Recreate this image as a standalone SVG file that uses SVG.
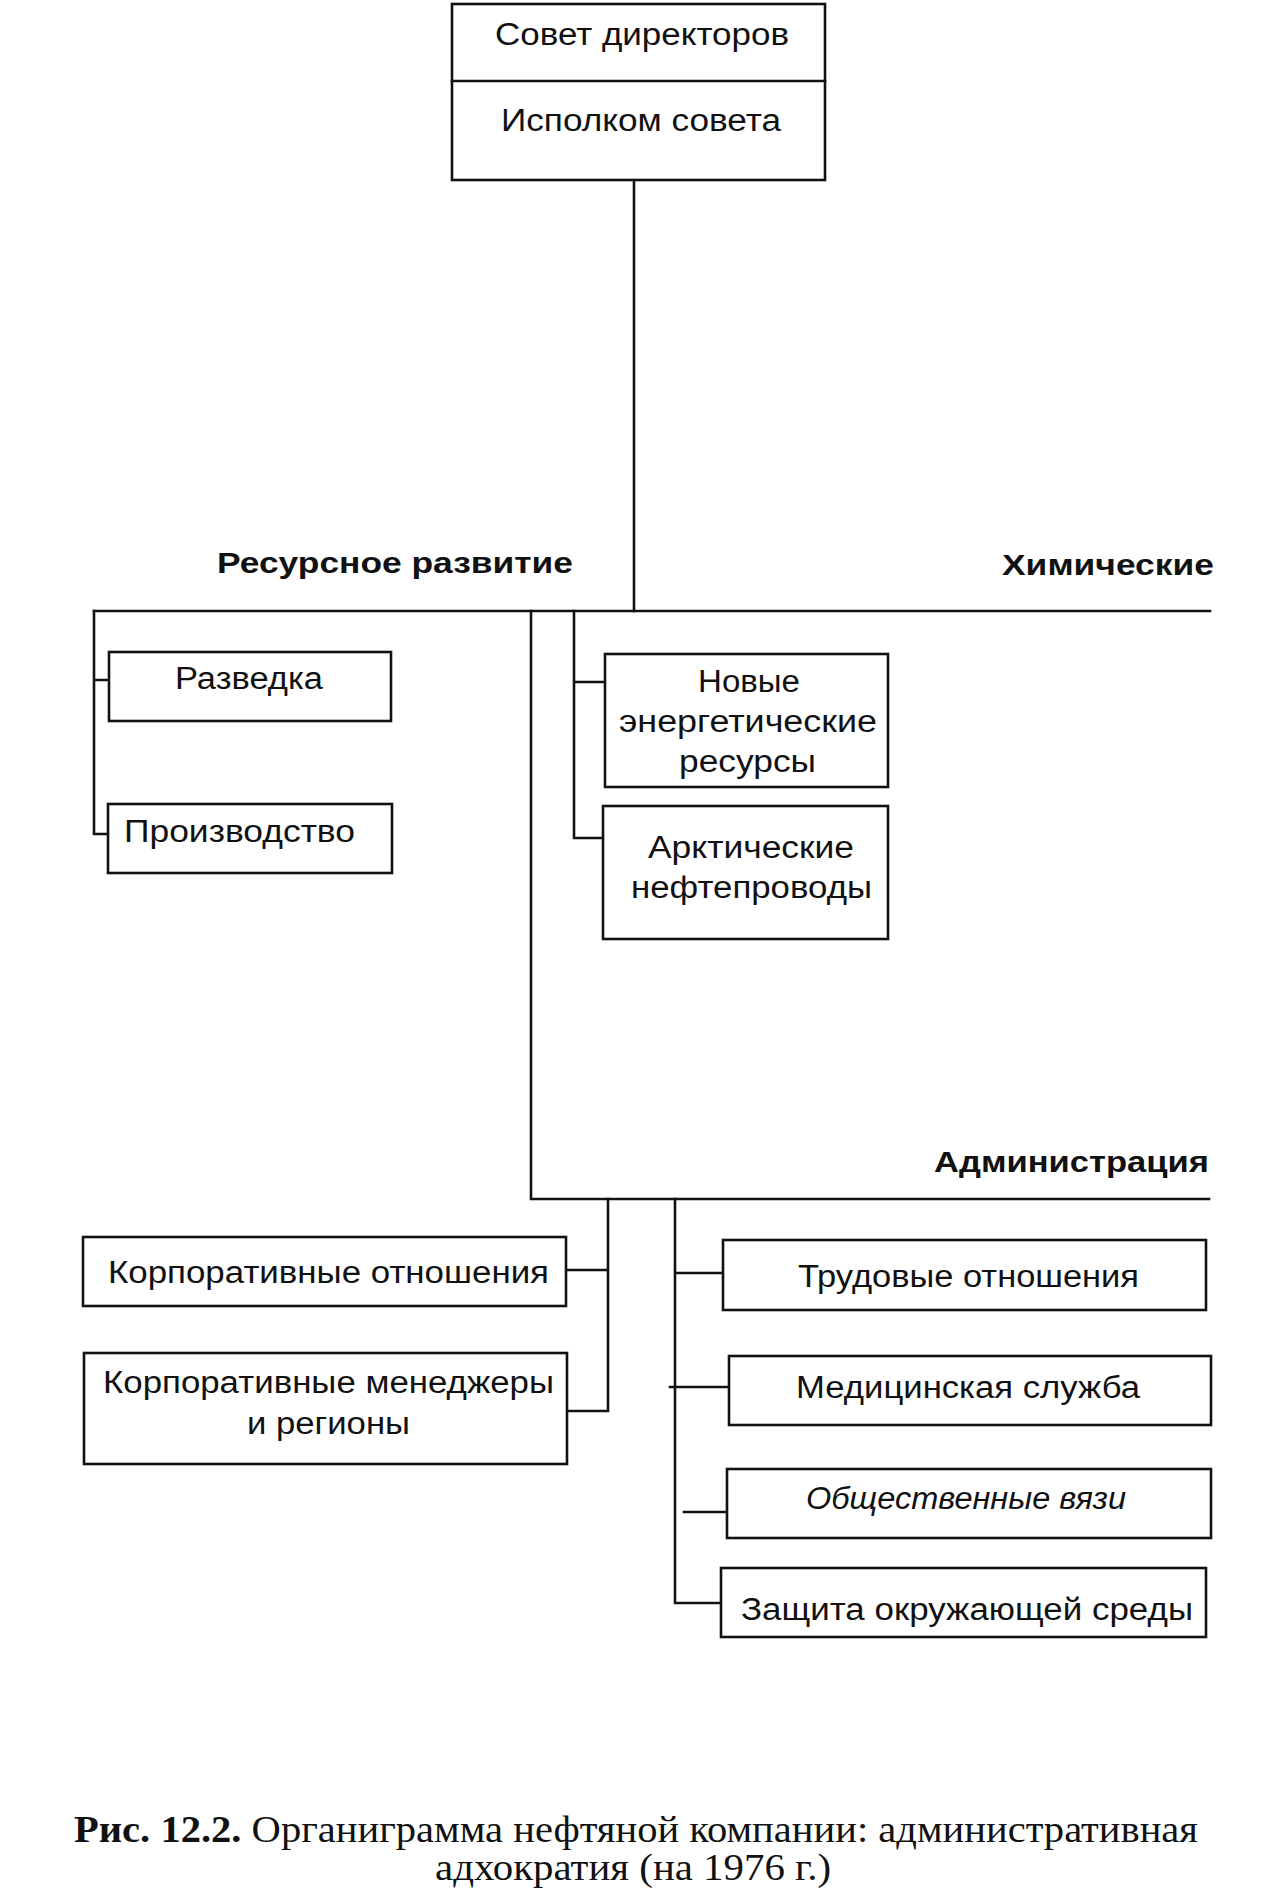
<svg xmlns="http://www.w3.org/2000/svg" width="1275" height="1903" viewBox="0 0 1275 1903">
<style>
.box{fill:#fff;stroke:#111;stroke-width:2.6}
.ln{fill:none;stroke:#111;stroke-width:2.6;stroke-linecap:square}
.t{font-family:"Liberation Sans",Arial,sans-serif;font-size:31px;fill:#111}
.b{font-family:"Liberation Sans",Arial,sans-serif;font-size:29px;font-weight:bold;fill:#111}
.i{font-style:italic}
.cap{font-family:"Liberation Serif","Times New Roman",serif;font-size:37px;fill:#111}
</style>
<rect width="1275" height="1903" fill="#fff"/>
<g id="connectors">
<path class="ln" d="M634 180 V611"/>
<path class="ln" d="M94 611 H1210"/>
<path class="ln" d="M94 611 V834 H108 M94 680 H109"/>
<path class="ln" d="M531 611 V1199 H1209"/>
<path class="ln" d="M574 611 V838 H603 M574 682 H605"/>
<path class="ln" d="M608 1199 V1411 H567 M608 1270 H566"/>
<path class="ln" d="M675 1199 V1603 H721 M675 1273 H723 M670 1387 H729 M684 1512 H727"/>
</g>
<g id="board">
<rect class="box" x="452" y="4" width="373" height="176"/>
<path class="ln" d="M452 81 H825"/>
<text class="t" x="495" y="45" textLength="294" lengthAdjust="spacingAndGlyphs">Совет директоров</text>
<text class="t" x="501" y="131" textLength="280" lengthAdjust="spacingAndGlyphs">Исполком совета</text>
</g>
<g id="label-resources">
<text class="b" x="217" y="573" textLength="356" lengthAdjust="spacingAndGlyphs">Ресурсное развитие</text>
</g>
<g id="label-chemicals">
<text class="b" x="1002" y="575" textLength="212" lengthAdjust="spacingAndGlyphs">Химические</text>
</g>
<g id="exploration">
<rect class="box" x="109" y="652" width="282" height="69"/>
<text class="t" x="175" y="689" textLength="148" lengthAdjust="spacingAndGlyphs">Разведка</text>
</g>
<g id="production">
<rect class="box" x="108" y="804" width="284" height="69"/>
<text class="t" x="124" y="842" textLength="231" lengthAdjust="spacingAndGlyphs">Производство</text>
</g>
<g id="new-energy">
<rect class="box" x="605" y="654" width="283" height="133"/>
<text class="t" x="698" y="692" textLength="102" lengthAdjust="spacingAndGlyphs">Новые</text>
<text class="t" x="619" y="732" textLength="258" lengthAdjust="spacingAndGlyphs">энергетические</text>
<text class="t" x="679" y="772" textLength="137" lengthAdjust="spacingAndGlyphs">ресурсы</text>
</g>
<g id="arctic">
<rect class="box" x="603" y="806" width="285" height="133"/>
<text class="t" x="648" y="858" textLength="206" lengthAdjust="spacingAndGlyphs">Арктические</text>
<text class="t" x="631" y="898" textLength="241" lengthAdjust="spacingAndGlyphs">нефтепроводы</text>
</g>
<g id="label-admin">
<text class="b" x="934" y="1172" textLength="275" lengthAdjust="spacingAndGlyphs">Администрация</text>
</g>
<g id="corp-relations">
<rect class="box" x="83" y="1237" width="483" height="69"/>
<text class="t" x="108" y="1283" textLength="441" lengthAdjust="spacingAndGlyphs">Корпоративные отношения</text>
</g>
<g id="corp-managers">
<rect class="box" x="84" y="1353" width="483" height="111"/>
<text class="t" x="103" y="1393" textLength="451" lengthAdjust="spacingAndGlyphs">Корпоративные менеджеры</text>
<text class="t" x="247" y="1434" textLength="163" lengthAdjust="spacingAndGlyphs">и регионы</text>
</g>
<g id="labour">
<rect class="box" x="723" y="1240" width="483" height="70"/>
<text class="t" x="798" y="1287" textLength="341" lengthAdjust="spacingAndGlyphs">Трудовые отношения</text>
</g>
<g id="medical">
<rect class="box" x="729" y="1356" width="482" height="69"/>
<text class="t" x="796" y="1398" textLength="344" lengthAdjust="spacingAndGlyphs">Медицинская служба</text>
</g>
<g id="public">
<rect class="box" x="727" y="1469" width="484" height="69"/>
<text class="t i" x="806" y="1509" textLength="320" lengthAdjust="spacingAndGlyphs">Общественные вязи</text>
</g>
<g id="environment">
<rect class="box" x="721" y="1568" width="485" height="69"/>
<text class="t" x="741" y="1620" textLength="452" lengthAdjust="spacingAndGlyphs">Защита окружающей среды</text>
</g>
<g id="caption">
<text class="cap" x="74" y="1842" textLength="1124" lengthAdjust="spacingAndGlyphs"><tspan font-weight="bold">Рис. 12.2.</tspan> Органиграмма нефтяной компании: административная</text>
<text class="cap" x="435" y="1880" textLength="396" lengthAdjust="spacingAndGlyphs">адхократия (на 1976 г.)</text>
</g>
</svg>
